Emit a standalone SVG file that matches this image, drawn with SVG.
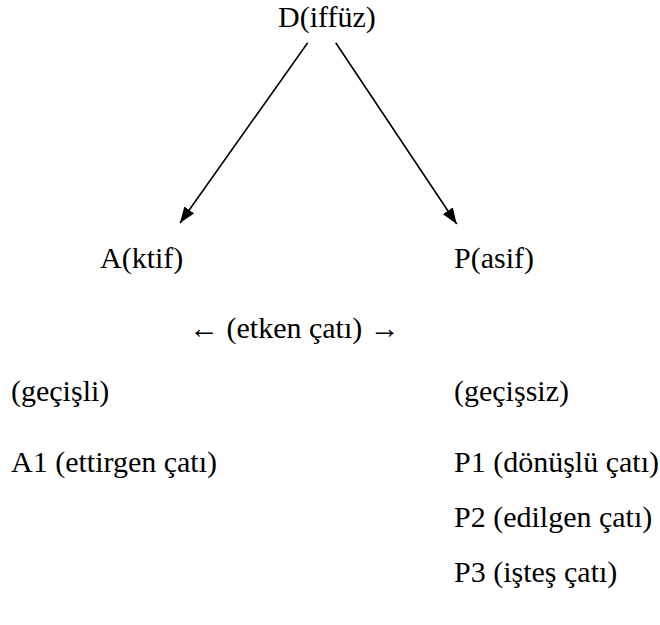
<svg xmlns="http://www.w3.org/2000/svg" width="660" height="625" viewBox="0 0 660 625">
  <style>
    .t { font-family: "Liberation Serif", "Times New Roman", serif; font-size: 30px; fill: #000; }
    .edge { stroke: #000; stroke-width: 1.6; fill: none; marker-end: url(#head); }
  </style>
  <defs>
    <marker id="head" markerUnits="userSpaceOnUse" markerWidth="16" markerHeight="12" viewBox="0 0 16 12" refX="16" refY="6" orient="auto">
      <path d="M0,0 L16,6 L0,12 Z" fill="#000"/>
    </marker>
  </defs>
  <rect width="660" height="625" fill="#fff"/>

  <!-- arrows from the top node down to its two branches -->
  <g id="connectors">
    <line class="edge" x1="307.7" y1="42.7" x2="180" y2="223"/>
    <line class="edge" x1="335.7" y1="42.7" x2="456.7" y2="224"/>
  </g>

  <!-- labels -->
  <g id="diffuz"><text class="t" x="278" y="27">D(iffüz)</text></g>
  <g id="aktif"><text class="t" x="100" y="268">A(ktif)</text></g>
  <g id="pasif"><text class="t" x="454" y="268">P(asif)</text></g>
  <g id="etken"><text class="t" x="189" y="338">← (etken çatı) →</text></g>
  <g id="gecisli"><text class="t" x="11" y="401">(geçişli)</text></g>
  <g id="gecissiz"><text class="t" x="454" y="401">(geçişsiz)</text></g>
  <g id="a1"><text class="t" x="11" y="472">A1 (ettirgen çatı)</text></g>
  <g id="p1"><text class="t" x="454" y="472">P1 (dönüşlü çatı)</text></g>
  <g id="p2"><text class="t" x="454" y="527">P2 (edilgen çatı)</text></g>
  <g id="p3"><text class="t" x="454" y="582">P3 (işteş çatı)</text></g>
</svg>
